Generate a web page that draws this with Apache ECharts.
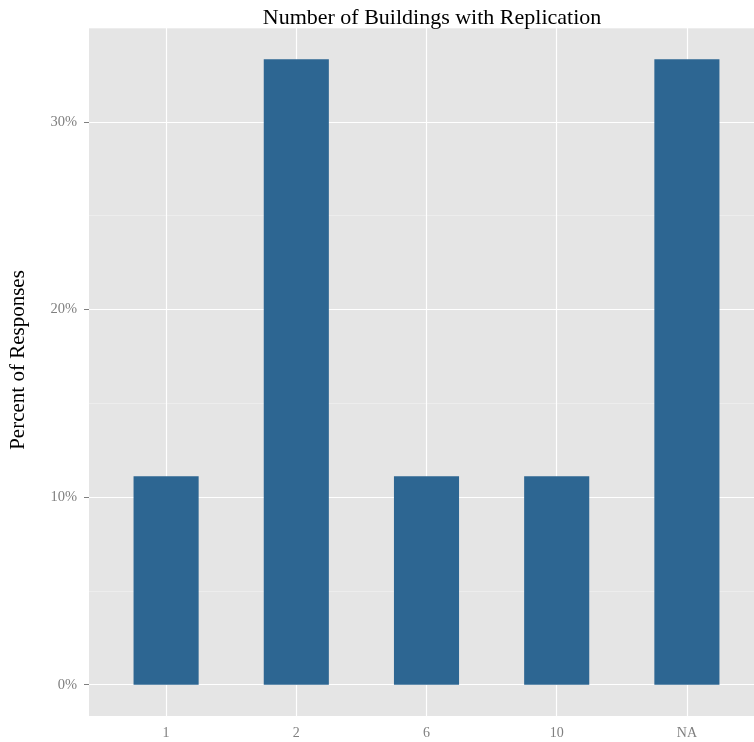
<!DOCTYPE html>
<html><head><meta charset="utf-8">
<script src="https://cdn.jsdelivr.net/npm/echarts@6/dist/echarts.min.js"></script>
<style>html,body{margin:0;padding:0;overflow:hidden;background:#fff}#c{width:780px;height:742px}</style>
</head><body><div id="c"></div>
<script>
const categories = ['1', '2', '6', '10', 'NA'];
const percentValues = [11.11, 33.33, 11.11, 11.11, 33.33];
const majorTicks = [0, 10, 20, 30];
const minorTicks = [5, 15, 25, 35];
const yMin = -1.667, yMax = 35;

const chart = echarts.init(document.getElementById('c'), null, {renderer: 'canvas'});
const serif = '"Liberation Serif", "DejaVu Serif", serif';
const hLines = [];
minorTicks.forEach(v => hLines.push({yAxis: v, lineStyle: {color: '#F2F2F2', width: 0.6, type: 'solid'}}));
majorTicks.forEach(v => hLines.push({yAxis: v, lineStyle: {color: '#FFFFFF', width: 1.2, type: 'solid'}}));
const vLines = categories.map(c => ({xAxis: c, lineStyle: {color: '#FFFFFF', width: 1.2, type: 'solid'}}));

chart.setOption({
  animation: false,
  title: {
    text: 'Number of Buildings with Replication',
    left: 427, top: 2, textAlign: 'center',
    textStyle: {fontFamily: serif, fontSize: 22, fontWeight: 'normal', color: '#000'}
  },
  grid: [
    {left: 88, top: 28, width: 677, height: 688, show: true, backgroundColor: '#E5E5E5', borderWidth: 0},
    {left: 101, top: 28, width: 651, height: 688, show: false}
  ],
  xAxis: [
    {type: 'value', gridIndex: 0, min: 0, max: 1, show: false},
    {
      type: 'category', gridIndex: 1, data: categories,
      axisLine: {show: false},
      axisTick: {show: true, alignWithLabel: true, length: 5, lineStyle: {color: '#7F7F7F', width: 1}},
      axisLabel: {fontFamily: serif, fontSize: 14, color: '#7F7F7F', margin: 10},
      splitLine: {show: false}
    }
  ],
  yAxis: [
    {
      type: 'value', gridIndex: 0, min: yMin, max: yMax,
      name: 'Percent of Responses', nameLocation: 'middle', nameGap: 60, nameRotate: 90,
      nameTextStyle: {fontFamily: serif, fontSize: 21, color: '#000', padding: [0, 0, 0, 24]},
      axisLine: {show: false},
      axisTick: {show: true, length: 5, customValues: majorTicks, lineStyle: {color: '#7F7F7F', width: 1}},
      axisLabel: {customValues: majorTicks, fontFamily: serif, fontSize: 14.5, color: '#7F7F7F', margin: 12, formatter: v => v + '%'},
      splitLine: {show: false}
    },
    {type: 'value', gridIndex: 1, min: yMin, max: yMax, show: false, splitLine: {show: false}}
  ],
  series: [
    {
      type: 'line', xAxisIndex: 0, yAxisIndex: 0, data: [], z: 1, silent: true,
      markLine: {silent: true, z: 1, symbol: 'none', label: {show: false}, animation: false, data: hLines}
    },
    {
      type: 'line', xAxisIndex: 1, yAxisIndex: 1, data: [], z: 1, silent: true,
      markLine: {silent: true, z: 1, symbol: 'none', label: {show: false}, animation: false, data: vLines}
    },
    {
      type: 'bar', xAxisIndex: 1, yAxisIndex: 1, data: percentValues, barWidth: '50%', z: 3,
      itemStyle: {color: '#2D6692'}
    }
  ]
});
</script></body></html>
